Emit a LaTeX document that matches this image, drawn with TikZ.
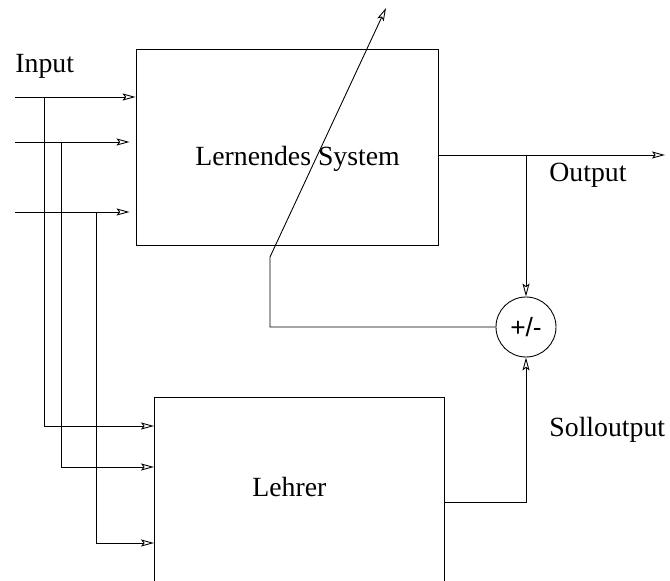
\documentclass[tikz,border=0pt]{standalone}
\usepackage{fontspec}
\setmainfont{Liberation Serif}
\newfontfamily\plusminus{Liberation Sans}
\usetikzlibrary{arrows.meta}
\tikzset{
  pfeil/.style={-{Stealth[open,length=2.6mm,width=1.4mm,inset=0.5mm]}},
  kasten/.style={draw,inner sep=0pt},
  beschr/.style={anchor=base west,inner sep=0pt,font=\fontsize{15.8}{19}\selectfont},
}
\begin{document}
\begin{tikzpicture}[x=0.2mm,y=-0.2mm,line width=0.5pt]
\clip (0,0) rectangle (670,581);

\node[kasten,minimum width=60.4mm,minimum height=39.2mm] (sys) at (287,147) {};
\node[kasten,minimum width=58mm,minimum height=44.6mm] (lehrer) at (299,508.5) {};
\node[draw,circle,minimum size=12mm,inner sep=0pt,font=\plusminus\fontsize{15}{18}\selectfont] (cmp) at (526,327) {+/-};

\node[beschr] (input) at (15,72.5) {Input};
\node[beschr] (systxt) at (195,165.5) {Lernendes System};
\node[beschr] (output) at (549,182) {Output};
\node[beschr] (sollout) at (549,437) {Solloutput};
\node[beschr] (lehrertxt) at (252,496) {Lehrer};

\coordinate (in1) at (15,97);
\coordinate (in2) at (15,142);
\coordinate (in3) at (15,212);
\coordinate (ab1) at (44,97);
\coordinate (ab2) at (61,142);
\coordinate (ab3) at (96,212);
\coordinate (ein1) at (154,426);
\coordinate (ein2) at (154,467);
\coordinate (ein3) at (154,543);
\coordinate (aus) at (665,155);
\coordinate (zurueck) at (526,502);
\coordinate (knick) at (270,257);
\coordinate (lern) at (386,8);

\draw[pfeil] (in1) -- (in1 -| sys.west);
\draw[pfeil,shorten >=1.2mm] (in2) -- (in2 -| sys.west);
\draw[pfeil,shorten >=1.2mm] (in3) -- (in3 -| sys.west);
\draw[pfeil] (ab1) |- (ein1);
\draw[pfeil] (ab2) |- (ein2);
\draw[pfeil] (ab3) |- (ein3);
\draw[pfeil] (aus -| sys.east) -- (aus);
\draw[pfeil] (aus -| cmp.north) -- (cmp.north);
\draw[pfeil] (zurueck -| lehrer.east) -| (cmp.south);
\draw[pfeil] (cmp.west) -| (knick) -- (lern);
\end{tikzpicture}
\end{document}
